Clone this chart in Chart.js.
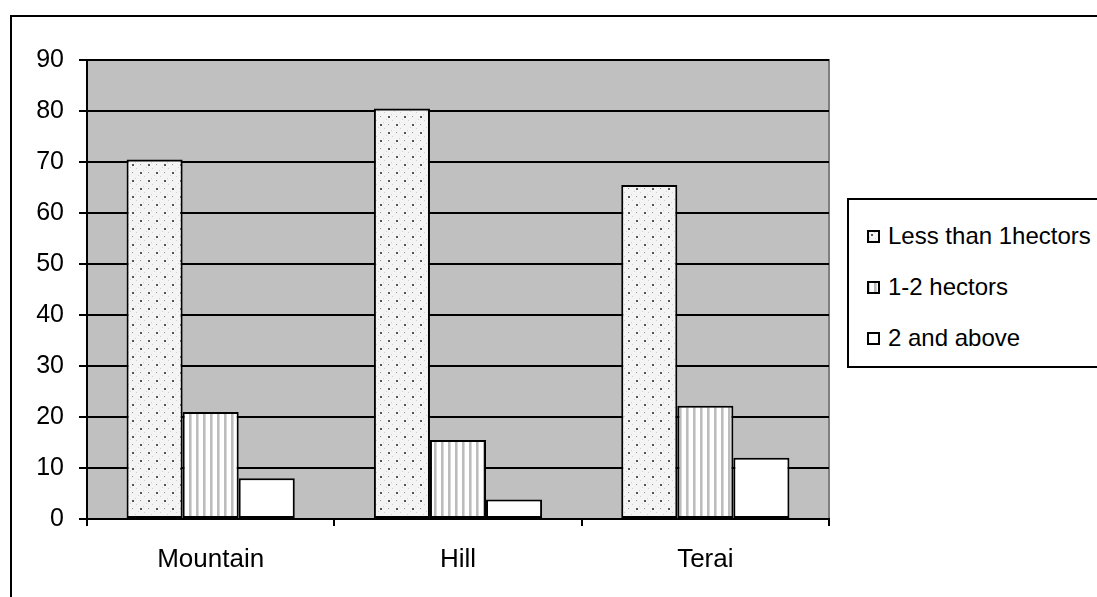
<!DOCTYPE html>
<html>
<head>
<meta charset="utf-8">
<script src="https://cdn.jsdelivr.net/npm/chart.js@4/dist/chart.umd.min.js"></script>
<style>
  html, body { margin: 0; padding: 0; background: #fff; }
  #wrap { position: relative; width: 1097px; height: 597px; overflow: hidden; }
  #frame { position: absolute; left: 10px; top: 15px; width: 1200px; height: 700px; border: 2px solid #000; }
  #chart { position: absolute; left: 0; top: 0; }
  #legend {
    position: absolute; left: 847px; top: 198px; width: 300px; height: 166px;
    border: 2px solid #000; background: #fff;
    font-family: "Liberation Sans", Arial, sans-serif; font-size: 24px; color: #000;
  }
  .item { position: absolute; left: 18px; height: 28px; line-height: 28px; white-space: nowrap; }
  .item canvas { position: absolute; left: 0; top: 8px; width: 13px; height: 13px; }
  .item span { position: absolute; left: 21px; top: 0; }
</style>
</head>
<body>
<div id="wrap">
  <div id="frame"></div>
  <canvas id="chart" width="1097" height="597"></canvas>
  <div id="legend"></div>
</div>
<script>
const categories = ['Mountain', 'Hill', 'Terai'];
const seriesNames = ['Less than 1hectors', '1-2 hectors', '2 and above'];
const lessThan1 = [70.5, 80.5, 65.5];
const oneToTwo = [21, 15.5, 22.2];
const twoAbove = [8, 3.8, 12];
const yTicks = [0, 10, 20, 30, 40, 50, 60, 70, 80, 90];

// fill patterns like the old spreadsheet hatching
function dotTile() {
  const c = document.createElement('canvas');
  c.width = 16; c.height = 16;
  const g = c.getContext('2d');
  g.fillStyle = '#f4f4f4';
  g.fillRect(0, 0, 16, 16);
  g.fillStyle = '#d0d0d0';
  [[0, 0], [8, 8], [12, 4], [4, 12], [2, 7], [10, 15], [7, 2], [15, 10]].forEach(p => g.fillRect(p[0], p[1], 1, 1));
  g.fillStyle = '#555';
  g.fillRect(4, 4, 2, 2);
  g.fillRect(12, 12, 2, 2);
  g.fillStyle = '#999';
  g.fillRect(12, 4, 1, 1);
  g.fillRect(4, 12, 1, 1);
  return c;
}
function stripeTile() {
  const c = document.createElement('canvas');
  c.width = 7; c.height = 4;
  const g = c.getContext('2d');
  g.fillStyle = '#ffffff';
  g.fillRect(0, 0, 7, 4);
  g.fillStyle = '#bcbcbc';
  g.fillRect(0, 0, 2, 4);
  g.fillStyle = '#d8d8d8';
  g.fillRect(2, 0, 1, 4);
  return c;
}

const ctx = document.getElementById('chart').getContext('2d');
const dotFill = ctx.createPattern(dotTile(), 'repeat');
const stripeFill = ctx.createPattern(stripeTile(), 'repeat');
const fills = [dotFill, stripeFill, '#ffffff'];

const plotBack = {
  id: 'plotBack',
  beforeDraw(chart) {
    const a = chart.chartArea;
    const g = chart.ctx;
    g.save();
    g.fillStyle = '#c0c0c0';
    g.fillRect(a.left, a.top, a.right - a.left, a.bottom - a.top);
    g.strokeStyle = '#808080';
    g.lineWidth = 2;
    g.beginPath();
    g.moveTo(a.left, a.top);
    g.lineTo(a.right, a.top);
    g.lineTo(a.right, a.bottom);
    g.stroke();
    g.restore();
  }
};

new Chart(ctx, {
  type: 'bar',
  data: {
    labels: categories,
    datasets: [
      { label: seriesNames[0], data: lessThan1, backgroundColor: fills[0] },
      { label: seriesNames[1], data: oneToTwo, backgroundColor: fills[1] },
      { label: seriesNames[2], data: twoAbove, backgroundColor: fills[2] }
    ]
  },
  options: {
    responsive: false,
    animation: false,
    events: [],
    layout: { padding: { left: 0, top: 60, right: 268, bottom: 0 } },
    datasets: {
      bar: {
        borderColor: '#000',
        borderWidth: 2,
        borderSkipped: false,
        barPercentage: 1,
        categoryPercentage: 0.68
      }
    },
    plugins: { legend: { display: false }, tooltip: { enabled: false } },
    scales: {
      x: {
        afterFit(s) { s.height = 78; },
        grid: { drawOnChartArea: false, drawTicks: true, tickLength: 7, color: '#000', lineWidth: 2 },
        border: { color: '#000', width: 2 },
        ticks: {
          color: '#000', padding: 18,
          font: { family: '"Liberation Sans", Arial, sans-serif', size: 26 }
        }
      },
      y: {
        min: 0, max: 90,
        afterFit(s) { s.width = 87; },
        afterBuildTicks(s) { s.ticks = yTicks.map(v => ({ value: v })); },
        grid: { color: '#000', lineWidth: 2, tickLength: 8 },
        border: { color: '#000', width: 2 },
        ticks: {
          color: '#000', padding: 15,
          font: { family: '"Liberation Sans", Arial, sans-serif', size: 25 }
        }
      }
    }
  },
  plugins: [plotBack]
});

// legend box
const legend = document.getElementById('legend');
const rowTops = [22, 73, 124];
seriesNames.forEach((name, i) => {
  const item = document.createElement('div');
  item.className = 'item';
  item.style.top = rowTops[i] + 'px';
  const sw = document.createElement('canvas');
  sw.width = 13; sw.height = 13;
  const g = sw.getContext('2d');
  g.fillStyle = i === 0 ? g.createPattern(dotTile(), 'repeat') : i === 1 ? g.createPattern(stripeTile(), 'repeat') : '#fff';
  g.fillRect(0, 0, 13, 13);
  g.strokeStyle = '#000';
  g.lineWidth = 2;
  g.strokeRect(1, 1, 11, 11);
  const label = document.createElement('span');
  label.textContent = name;
  item.appendChild(sw);
  item.appendChild(label);
  legend.appendChild(item);
});
</script>
</body>
</html>
